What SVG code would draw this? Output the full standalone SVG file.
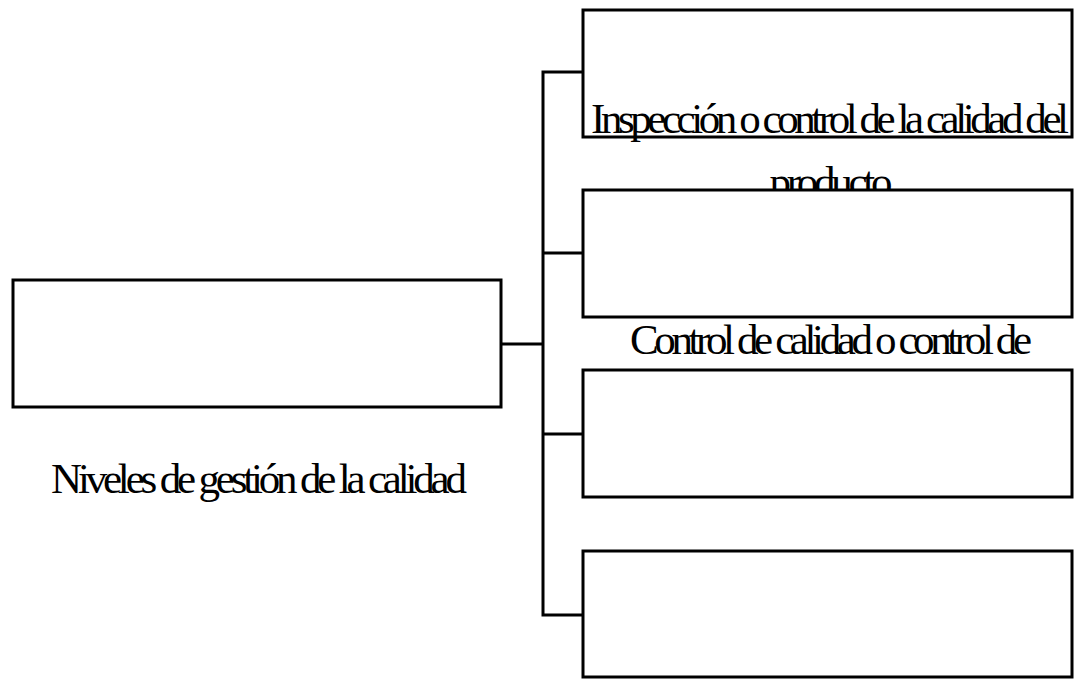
<svg xmlns="http://www.w3.org/2000/svg" width="1075" height="679" viewBox="0 0 1075 679">
  <style>
    .box { fill: #ffffff; stroke: #000000; stroke-width: 3; }
    .link { fill: none; stroke: #000000; stroke-width: 3; }
    .label { font-family: "Liberation Serif", "Times New Roman", serif; font-size: 43px; fill: #000000; text-anchor: middle; }
  </style>
  <rect width="1075" height="679" fill="#ffffff"/>

  <!-- tree connectors -->
  <g id="connectors">
    <path class="link" d="M501 344 H543"/>
    <path class="link" d="M583 72 H543 V615 H583"/>
    <path class="link" d="M543 253 H583"/>
    <path class="link" d="M543 434 H583"/>
  </g>

  <!-- root node -->
  <g id="node-root">
    <rect class="box" x="13" y="280" width="488" height="127"/>
    <text class="label" x="259" y="493" font-size="45" textLength="416" lengthAdjust="spacing">Niveles de gestión de la calidad</text>
  </g>

  <!-- level 1 -->
  <g id="node-inspeccion">
    <rect class="box" x="583" y="10" width="489" height="127"/>
    <text class="label" x="830" y="133" textLength="478" lengthAdjust="spacing">Inspección o control de la calidad del</text>
    <text class="label" x="831" y="196" textLength="123" lengthAdjust="spacing">producto</text>
  </g>

  <!-- level 2 -->
  <g id="node-control">
    <rect class="box" x="583" y="190" width="489" height="127"/>
    <text class="label" x="831" y="354" textLength="402" lengthAdjust="spacing">Control de calidad o control de</text>
  </g>

  <!-- level 3 -->
  <g id="node-nivel3">
    <rect class="box" x="583" y="370" width="489" height="127"/>
  </g>

  <!-- level 4 -->
  <g id="node-nivel4">
    <rect class="box" x="583" y="551" width="489" height="126"/>
  </g>
</svg>
